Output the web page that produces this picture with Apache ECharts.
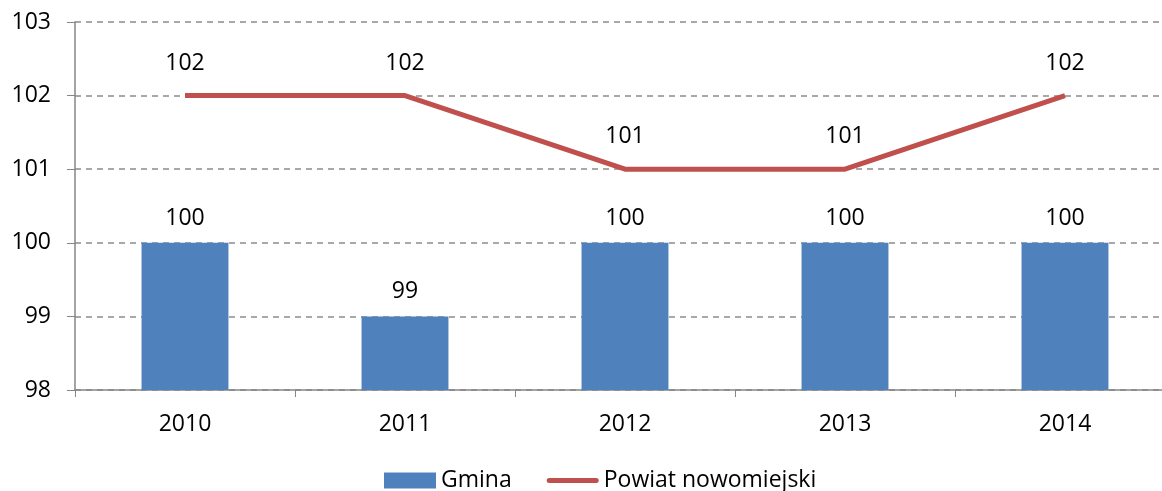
<!DOCTYPE html>
<html>
<head>
<meta charset="utf-8">
<script src="https://cdn.jsdelivr.net/npm/echarts@6/dist/echarts.min.js"></script>
<style>
html, body { margin: 0; padding: 0; background: #fff; }
#main { width: 1162px; height: 491px; }
</style>
</head>
<body>
<div id="main"></div>
<script>
// dane
var years = ['2010', '2011', '2012', '2013', '2014'];
var gmina = [100, 99, 100, 100, 100];
var powiat = [102, 102, 101, 101, 102];

var font = 'Open Sans';
var myChart = echarts.init(document.getElementById('main'));
var option = {
	animation: false,
	textStyle: { fontFamily: font },
	grid: { left: 75, right: -13, top: 22, bottom: 101, outerBoundsMode: 'none' },
	legend: {
		bottom: -6,
		left: 379,
		itemGap: 35,
		itemWidth: 52,
		itemHeight: 16,
		symbolKeepAspect: true,
		textStyle: { fontFamily: font, fontSize: 23, color: '#000' },
		data: [
			{ name: 'Gmina', icon: 'rect' },
			{ name: 'Powiat nowomiejski', icon: 'path://M2.5,0 L49.5,0 A2.5,2.5 0 0 1 49.5,5 L2.5,5 A2.5,2.5 0 0 1 2.5,0 Z' }
		]
	},
	xAxis: {
		type: 'category',
		data: years,
		axisLine: { lineStyle: { color: '#868686', width: 1.5 } },
		axisTick: { show: true, length: 7, lineStyle: { color: '#868686' } },
		axisLabel: { color: '#000', fontSize: 23, fontFamily: font, margin: 23 }
	},
	yAxis: {
		type: 'value',
		min: 98,
		max: 103,
		interval: 1,
		axisLine: { show: true, lineStyle: { color: '#868686', width: 1.5 } },
		axisTick: { show: true, length: 8, lineStyle: { color: '#868686' } },
		axisLabel: { color: '#000', fontSize: 23, fontFamily: font, margin: 24 },
		splitLine: { lineStyle: { color: '#8c8c8c', type: [6, 5], width: 1.5 } }
	},
	series: [
		{
			name: 'Gmina',
			type: 'bar',
			data: gmina,
			barWidth: '39.5%',
			itemStyle: { color: '#4F81BD' },
			label: { show: true, position: 'top', distance: 13, color: '#000', fontSize: 23, fontFamily: font }
		},
		{
			name: 'Powiat nowomiejski',
			type: 'line',
			data: powiat,
			symbol: 'circle',
			symbolSize: 0.01,
			showSymbol: true,
			lineStyle: { color: '#C0504D', width: 5 },
			itemStyle: { color: '#C0504D' },
			label: { show: true, position: 'top', distance: 21, color: '#000', fontSize: 23, fontFamily: font }
		}
	]
};
myChart.setOption(option);
</script>
</body>
</html>
